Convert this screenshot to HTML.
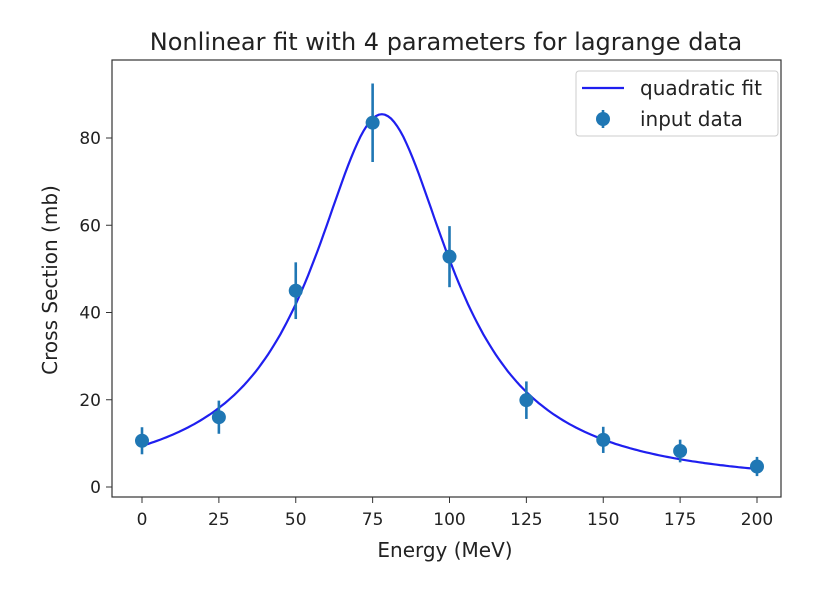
<!DOCTYPE html>
<html><head><meta charset="utf-8"><style>
body{margin:0;background:#fff}
svg text{font-family:"DejaVu Sans","Liberation Sans",sans-serif;fill:#222}
</style></head><body>
<svg id="chart" width="839" height="591">
<g id="plot"></g>
</svg>
<script>
const energies=[0,25,50,75,100,125,150,175,200];
const crossSections=[10.6,16.0,45.0,83.5,52.8,19.9,10.8,8.25,4.7];
const errors=[3.1,3.8,6.5,9.0,7.0,4.3,3.0,2.6,2.2];
const xTicks=[0,25,50,75,100,125,150,175,200];
const yTicks=[0,20,40,60,80];
const fitParams=[64600,78,756,0];
const L=112,R=781,T=60,B=497;
const X=v=>142+v*(757-142)/200;
const Y=v=>487-v*(487-138)/80;
const NS="http://www.w3.org/2000/svg";
const svg=document.getElementById('chart');
function mk(t,a,txt){const e=document.createElementNS(NS,t);for(const k in a)e.setAttribute(k,a[k]);if(txt!==undefined)e.textContent=txt;svg.appendChild(e);return e;}
let e=mk('rect',{x:L,y:T,width:R-L,height:B-T,fill:'none',stroke:'#333','stroke-width':1.2});


xTicks.forEach(v=>{
 let t=mk('line',{x1:X(v),x2:X(v),y1:B,y2:B+6,stroke:'#333'});
 
 
 let l=mk('text',{x:X(v),y:B+28,'text-anchor':'middle','font-size':17},v);
 
 
});
yTicks.forEach(v=>{
 let t=mk('line',{x1:L-6,x2:L,y1:Y(v),y2:Y(v),stroke:'#333'});
 
 
 let l=mk('text',{x:L-11,y:Y(v)+6,'text-anchor':'end','font-size':17},v);
 
 
});
let d='';
for(let x=0;x<=200;x+=1){const y=fitParams[0]/((x-fitParams[1])**2+fitParams[2])+fitParams[3];d+=(x?'L':'M')+X(x).toFixed(1)+','+Y(y).toFixed(1);}
e=mk('path',{d:d,fill:'none',stroke:'#1f1fef','stroke-width':2.2});


energies.forEach((x,i)=>{
 let b=mk('line',{x1:X(x),x2:X(x),y1:Y(crossSections[i]+errors[i]),y2:Y(crossSections[i]-errors[i]),stroke:'#1f77b4','stroke-width':2.6});
 
 
 let c=mk('circle',{cx:X(x),cy:Y(crossSections[i]),r:7,fill:'#1f77b4'});
 
 
});
e=mk('text',{x:446,y:50,'text-anchor':'middle','font-size':24},'Nonlinear fit with 4 parameters for lagrange data');


e=mk('text',{x:445,y:557,'text-anchor':'middle','font-size':20},'Energy (MeV)');


e=mk('text',{x:57,y:280,'text-anchor':'middle','font-size':20,transform:'rotate(-90 57 280)'},'Cross Section (mb)');


e=mk('rect',{x:576,y:71,width:202,height:65,rx:3,fill:'#fff',stroke:'#ccc'});


e=mk('line',{x1:582,x2:624,y1:88,y2:88,stroke:'#1f1fef','stroke-width':2.2});


e=mk('text',{x:640,y:95,'font-size':20},'quadratic fit');


e=mk('line',{x1:603,x2:603,y1:110,y2:128,stroke:'#1f77b4','stroke-width':2.6});


e=mk('circle',{cx:603,cy:119,r:7,fill:'#1f77b4'});


e=mk('text',{x:640,y:126,'font-size':20},'input data');


</script>
</body></html>
